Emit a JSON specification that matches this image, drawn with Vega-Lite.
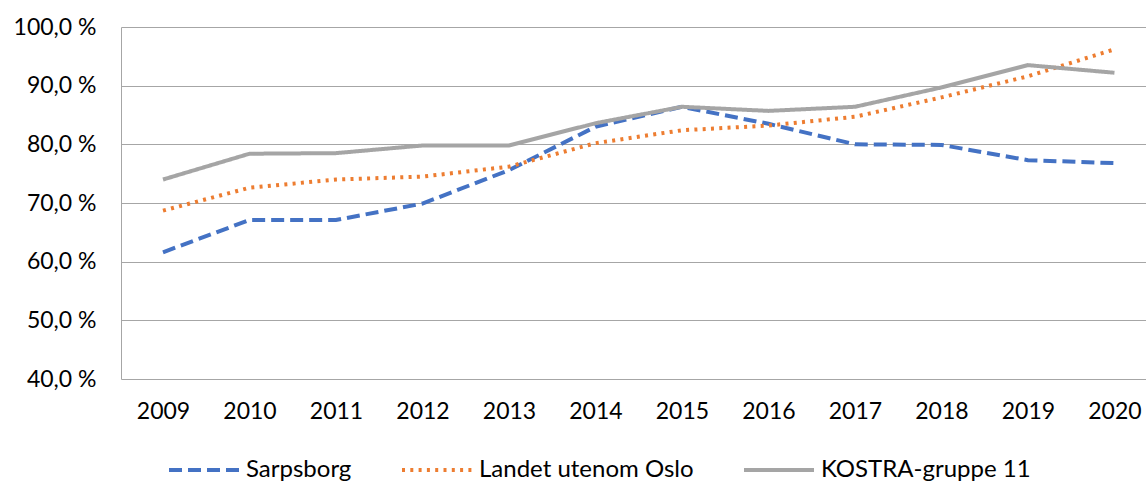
{
  "$schema": "https://vega.github.io/schema/vega-lite/v6.json",
  "width": 1025,
  "height": 352,
  "autosize": "none",
  "padding": {"left": 121, "top": 27, "right": 0, "bottom": 102},
  "background": "white",
  "config": {"view": {"stroke": null}, "font": "Lato"},
  "data": {"values": [
    {"year": "2009", "series": "Sarpsborg", "value": 61.6},
    {"year": "2010", "series": "Sarpsborg", "value": 67.1},
    {"year": "2011", "series": "Sarpsborg", "value": 67.1},
    {"year": "2012", "series": "Sarpsborg", "value": 69.9},
    {"year": "2013", "series": "Sarpsborg", "value": 75.6},
    {"year": "2014", "series": "Sarpsborg", "value": 83.0},
    {"year": "2015", "series": "Sarpsborg", "value": 86.4},
    {"year": "2016", "series": "Sarpsborg", "value": 83.5},
    {"year": "2017", "series": "Sarpsborg", "value": 80.0},
    {"year": "2018", "series": "Sarpsborg", "value": 79.9},
    {"year": "2019", "series": "Sarpsborg", "value": 77.3},
    {"year": "2020", "series": "Sarpsborg", "value": 76.8},
    {"year": "2009", "series": "Landet utenom Oslo", "value": 68.7},
    {"year": "2010", "series": "Landet utenom Oslo", "value": 72.6},
    {"year": "2011", "series": "Landet utenom Oslo", "value": 74.0},
    {"year": "2012", "series": "Landet utenom Oslo", "value": 74.5},
    {"year": "2013", "series": "Landet utenom Oslo", "value": 76.2},
    {"year": "2014", "series": "Landet utenom Oslo", "value": 80.2},
    {"year": "2015", "series": "Landet utenom Oslo", "value": 82.4},
    {"year": "2016", "series": "Landet utenom Oslo", "value": 83.2},
    {"year": "2017", "series": "Landet utenom Oslo", "value": 84.7},
    {"year": "2018", "series": "Landet utenom Oslo", "value": 88.0},
    {"year": "2019", "series": "Landet utenom Oslo", "value": 91.6},
    {"year": "2020", "series": "Landet utenom Oslo", "value": 96.2},
    {"year": "2009", "series": "KOSTRA-gruppe 11", "value": 74.0},
    {"year": "2010", "series": "KOSTRA-gruppe 11", "value": 78.4},
    {"year": "2011", "series": "KOSTRA-gruppe 11", "value": 78.5},
    {"year": "2012", "series": "KOSTRA-gruppe 11", "value": 79.8},
    {"year": "2013", "series": "KOSTRA-gruppe 11", "value": 79.8},
    {"year": "2014", "series": "KOSTRA-gruppe 11", "value": 83.6},
    {"year": "2015", "series": "KOSTRA-gruppe 11", "value": 86.4},
    {"year": "2016", "series": "KOSTRA-gruppe 11", "value": 85.7},
    {"year": "2017", "series": "KOSTRA-gruppe 11", "value": 86.4},
    {"year": "2018", "series": "KOSTRA-gruppe 11", "value": 89.7},
    {"year": "2019", "series": "KOSTRA-gruppe 11", "value": 93.5},
    {"year": "2020", "series": "KOSTRA-gruppe 11", "value": 92.2}
  ]},
  "mark": {"type": "line", "strokeWidth": 4, "strokeCap": "butt", "clip": false},
  "encoding": {
    "x": {
      "field": "year", "type": "ordinal", "title": null,
      "scale": {"type": "point", "padding": 0.425, "align": 0.571},
      "axis": {"labelAngle": 0, "labelFontSize": 23, "labelColor": "#000000", "labelPadding": 21, "ticks": false, "domain": false, "grid": false, "labelFont": "Lato"}
    },
    "y": {
      "field": "value", "type": "quantitative", "title": null,
      "scale": {"domain": [40, 100], "nice": false, "zero": false},
      "axis": {"values": [40, 50, 60, 70, 80, 90, 100], "labelExpr": "replace(format(datum.value, '.1f'), '.', ',') + ' %'", "labelFontSize": 23, "labelColor": "#000000", "labelPadding": 25, "ticks": false, "domain": true, "domainColor": "#a6a6a6", "domainWidth": 1, "grid": true, "gridColor": "#a6a6a6", "gridWidth": 1, "labelFont": "Lato"}
    },
    "color": {
      "field": "series", "type": "nominal",
      "scale": {"domain": ["Sarpsborg", "Landet utenom Oslo", "KOSTRA-gruppe 11"], "range": ["#4472c4", "#ed7d31", "#a5a5a5"]},
      "legend": {"title": null, "orient": "none", "legendX": 46, "legendY": 406, "direction": "horizontal", "symbolType": "stroke", "symbolSize": 4900, "symbolStrokeWidth": 4, "labelFontSize": 24, "labelColor": "#000000", "labelOffset": 5, "columnPadding": 42, "labelFont": "Lato", "labelLimit": 400}
    },
    "strokeDash": {
      "field": "series", "type": "nominal",
      "scale": {"domain": ["Sarpsborg", "Landet utenom Oslo", "KOSTRA-gruppe 11"], "range": [[13, 6], [3, 5.3], [1, 0]]},
      "legend": {"title": null, "orient": "none", "legendX": 46, "legendY": 406, "direction": "horizontal", "symbolType": "stroke", "symbolSize": 4900, "symbolStrokeWidth": 4, "labelFontSize": 24, "labelColor": "#000000", "labelOffset": 5, "columnPadding": 42, "labelFont": "Lato", "labelLimit": 400}
    }
  }
}
